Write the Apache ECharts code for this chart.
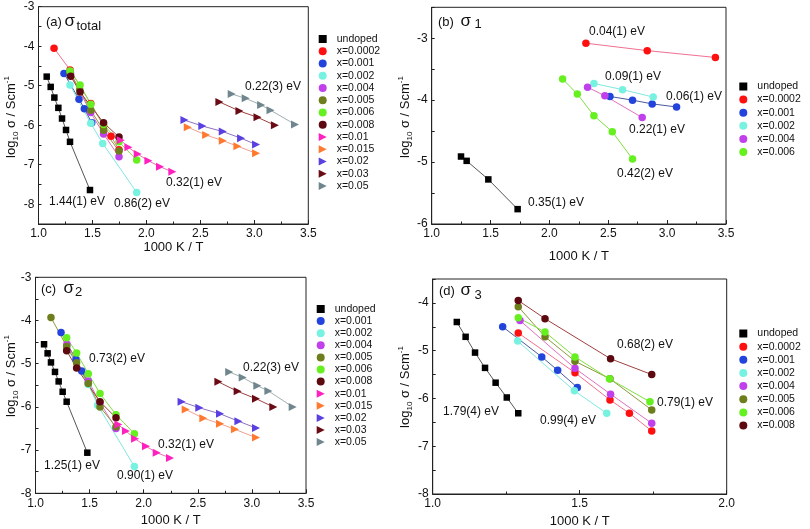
<!DOCTYPE html>
<html>
<head>
<meta charset="utf-8">
<script src="https://cdn.jsdelivr.net/npm/echarts@6/dist/echarts.min.js"></script>
<style>html,body{margin:0;padding:0;background:#fff}#c{width:810px;height:529px}</style>
</head>
<body>
<div id="c"></div>
<script>
// ---------- series names ----------
const NAMES_A = ['undoped','x=0.0002','x=0.001','x=0.002','x=0.004','x=0.005','x=0.006','x=0.008','x=0.01','x=0.015','x=0.02','x=0.03','x=0.05'];
const NAMES_B = ['undoped','x=0.0002','x=0.001','x=0.002','x=0.004','x=0.006'];
const NAMES_C = ['undoped','x=0.001','x=0.002','x=0.004','x=0.005','x=0.006','x=0.008','x=0.01','x=0.015','x=0.02','x=0.03','x=0.05'];
const NAMES_D = ['undoped','x=0.0002','x=0.001','x=0.002','x=0.004','x=0.005','x=0.006','x=0.008'];

// ---------- panel (a) sigma_total : [1000/T, log10 sigma] ----------
const A_undoped = [[1.076,-4.77],[1.113,-5.03],[1.147,-5.30],[1.184,-5.56],[1.218,-5.83],[1.255,-6.12],[1.292,-6.42],[1.477,-7.64]];
const A_x0002 = [[1.144,-4.05],[1.292,-4.60],[1.484,-5.45],[1.603,-6.02],[1.672,-6.28],[1.746,-6.62]];
const A_x001 = [[1.236,-4.69],[1.375,-5.34],[1.425,-5.58],[1.493,-5.94]];
const A_x002 = [[1.292,-4.98],[1.484,-5.95],[1.595,-6.46],[1.910,-7.70]];
const A_x004 = [[1.297,-4.70],[1.484,-5.68],[1.603,-6.22],[1.746,-6.80]];
const A_x005 = [[1.292,-4.66],[1.382,-5.10],[1.484,-5.62],[1.603,-6.13],[1.746,-6.65]];
const A_x006 = [[1.292,-4.63],[1.385,-4.98],[1.484,-5.47],[1.603,-5.98],[1.746,-6.42],[1.910,-6.88]];
const A_x008 = [[1.298,-4.76],[1.385,-5.16],[1.603,-5.94],[1.746,-6.30]];
const A_x01 = [[1.762,-6.38],[1.833,-6.56],[1.919,-6.73],[2.018,-6.90],[2.126,-7.05],[2.240,-7.18]];
const A_x015 = [[2.383,-6.05],[2.553,-6.25],[2.707,-6.39],[2.843,-6.53],[3.016,-6.71]];
const A_x02 = [[2.352,-5.87],[2.518,-6.02],[2.707,-6.16],[2.877,-6.33],[3.016,-6.49]];
const A_x03 = [[2.676,-5.41],[2.862,-5.64],[3.029,-5.80],[3.190,-6.00]];
const A_x05 = [[2.790,-5.21],[2.920,-5.32],[3.063,-5.49],[3.150,-5.62],[3.377,-5.98]];

// ---------- panel (b) sigma_1 ----------
const B_undoped = [[1.249,-4.91],[1.297,-4.98],[1.481,-5.28],[1.730,-5.76]];
const B_x0002 = [[2.310,-3.08],[2.831,-3.20],[3.410,-3.31]];
const B_x001 = [[2.514,-3.94],[2.706,-4.00],[2.873,-4.06],[3.080,-4.11]];
const B_x002 = [[2.378,-3.73],[2.621,-3.83],[2.882,-3.95]];
const B_x004 = [[2.324,-3.79],[2.471,-3.93],[2.788,-4.28]];
const B_x006 = [[2.112,-3.66],[2.237,-3.90],[2.378,-4.25],[2.534,-4.51],[2.706,-4.95]];

// ---------- panel (c) sigma_2 ----------
const C_undoped = [[1.079,-4.55],[1.112,-4.76],[1.143,-4.97],[1.180,-5.19],[1.214,-5.41],[1.251,-5.65],[1.288,-5.88],[1.479,-7.06]];
const C_x001 = [[1.236,-4.28],[1.374,-4.90],[1.427,-5.17],[1.488,-5.46]];
const C_x002 = [[1.288,-4.62],[1.488,-5.48],[1.575,-5.96],[1.914,-7.38]];
const C_x004 = [[1.290,-4.55],[1.488,-5.40],[1.596,-5.90],[1.744,-6.50]];
const C_x005 = [[1.143,-3.93],[1.288,-4.60],[1.380,-4.98],[1.488,-5.46],[1.596,-6.00],[1.744,-6.46]];
const C_x006 = [[1.288,-4.40],[1.380,-4.75],[1.488,-5.23],[1.596,-5.69],[1.744,-6.18],[1.914,-6.62]];
const C_x008 = [[1.288,-4.70],[1.380,-5.10],[1.596,-5.88],[1.744,-6.25]];
const C_x01 = [[1.766,-6.41],[1.836,-6.56],[1.920,-6.74],[2.021,-6.91],[2.120,-7.06],[2.243,-7.18]];
const C_x015 = [[2.388,-6.06],[2.551,-6.26],[2.705,-6.39],[2.843,-6.52],[3.038,-6.71]];
const C_x02 = [[2.350,-5.88],[2.514,-6.02],[2.705,-6.16],[2.875,-6.33],[3.038,-6.49]];
const C_x03 = [[2.690,-5.42],[2.868,-5.64],[3.038,-5.81],[3.198,-6.00]];
const C_x05 = [[2.790,-5.19],[2.915,-5.32],[3.050,-5.51],[3.152,-5.63],[3.377,-6.00]];

// ---------- panel (d) sigma_3 ----------
const D_undoped = [[1.082,-4.40],[1.112,-4.71],[1.144,-5.04],[1.178,-5.36],[1.214,-5.67],[1.252,-5.98],[1.291,-6.31]];
const D_x0002 = [[1.291,-4.63],[1.484,-5.46],[1.603,-6.03],[1.669,-6.31],[1.745,-6.68]];
const D_x001 = [[1.238,-4.50],[1.371,-5.13],[1.425,-5.41],[1.492,-5.77]];
const D_x002 = [[1.289,-4.80],[1.482,-5.84],[1.592,-6.31]];
const D_x004 = [[1.297,-4.37],[1.484,-5.37],[1.605,-5.91],[1.745,-6.52]];
const D_x005 = [[1.291,-4.08],[1.382,-4.71],[1.484,-5.22],[1.603,-5.59],[1.745,-6.24]];
const D_x006 = [[1.291,-4.31],[1.382,-4.61],[1.484,-5.13],[1.601,-5.59],[1.739,-6.07]];
const D_x008 = [[1.291,-3.95],[1.382,-4.33],[1.605,-5.17],[1.745,-5.50]];

// ---------- axis ticks ----------
const X_TICKS_WIDE = [1.0, 3.5, 0.5];   // min, max, step for (a),(b),(c)
const X_TICKS_D = [1.0, 2.0, 0.5];
const Y_A = [-8.5, -3, 0.5];
const Y_B = [-6, -2.5, 0.5];
const Y_C = [-8, -3, 0.5];
const Y_D = [-8, -3.5, 0.5];

// ---------- styles ----------
const SQ = 'path://M0,0H10V10H0Z';
const TRI = 'path://M0,0L10,5L0,10Z';
const STYLE = {
  'undoped': {c:'#000000', l:'#555555', s:SQ, z:6.5},
  'x=0.0002':{c:'#ff1010', l:'#f07090', s:'circle', z:7.5},
  'x=0.001': {c:'#2244dd', l:'#4a5a9a', s:'circle', z:7.5},
  'x=0.002': {c:'#78f2e0', l:'#7fe8e0', s:'circle', z:7.5},
  'x=0.004': {c:'#c040ec', l:'#e070c0', s:'circle', z:7.5},
  'x=0.005': {c:'#6e7e1c', l:'#8a9a3a', s:'circle', z:7.5},
  'x=0.006': {c:'#66f020', l:'#80e040', s:'circle', z:7.5},
  'x=0.008': {c:'#5c0a10', l:'#a04040', s:'circle', z:7.5},
  'x=0.01':  {c:'#ff20c0', l:'#f070b0', s:TRI, z:8},
  'x=0.015': {c:'#ff7a30', l:'#f0a090', s:TRI, z:8},
  'x=0.02':  {c:'#5a40e0', l:'#9070c0', s:TRI, z:8},
  'x=0.03':  {c:'#6a0a14', l:'#a04040', s:TRI, z:8},
  'x=0.05':  {c:'#70868e', l:'#a0b0b0', s:TRI, z:8}
};

const FONT = 'Liberation Sans, Arial, sans-serif';
const PANELS = [
  {grid:{left:38.5, top:6.7, width:269.8, height:217.3}, xr:X_TICKS_WIDE, yr:Y_A, xGap:17, names:NAMES_A,
   data:[A_undoped,A_x0002,A_x001,A_x002,A_x004,A_x005,A_x006,A_x008,A_x01,A_x015,A_x02,A_x03,A_x05],
   legend:{left:318.7, top:33, lh:12, gap:0.25}},
  {grid:{left:431.7, top:7.3, width:294.3, height:216.7}, xr:X_TICKS_WIDE, yr:Y_B, xGap:26, names:NAMES_B,
   data:[B_undoped,B_x0002,B_x001,B_x002,B_x004,B_x006], legend:{left:739.3, top:80, lh:13, gap:0.1}},
  {grid:{left:35.5, top:277.3, width:270.5, height:216}, xr:X_TICKS_WIDE, yr:Y_C, xGap:21, names:NAMES_C,
   data:[C_undoped,C_x001,C_x002,C_x004,C_x005,C_x006,C_x008,C_x01,C_x015,C_x02,C_x03,C_x05],
   legend:{left:316.7, top:303, lh:12, gap:0.1}},
  {grid:{left:432.7, top:279, width:294, height:215.3}, xr:X_TICKS_D, yr:Y_D, xGap:21, names:NAMES_D,
   data:[D_undoped,D_x0002,D_x001,D_x002,D_x004,D_x005,D_x006,D_x008], legend:{left:739.3, top:327, lh:13, gap:0.15}}
];

const grids=[], xAxes=[], yAxes=[], series=[], legends=[];
PANELS.forEach((p,i)=>{
  grids.push(Object.assign({show:true, borderColor:'#222', borderWidth:1, backgroundColor:'transparent'}, p.grid));
  xAxes.push({type:'value', gridIndex:i, min:p.xr[0], max:p.xr[1], interval:p.xr[2],
    name:'1000 K / T', nameLocation:'middle', nameGap:p.xGap,
    nameTextStyle:{fontFamily:FONT, fontSize:13, color:'#111'},
    axisLine:{show:true, lineStyle:{color:'#222', width:1}},
    axisTick:{show:true, inside:true, length:4, lineStyle:{color:'#222'}},
    minorTick:{show:true, splitNumber:2, length:2.5, lineStyle:{color:'#222'}},
    splitLine:{show:false}, minorSplitLine:{show:false},
    axisLabel:{fontFamily:FONT, fontSize:12, color:'#111', margin:4, formatter:v=>v.toFixed(1)}});
  yAxes.push({type:'value', gridIndex:i, min:p.yr[0], max:p.yr[1], interval:p.yr[2],
    axisLine:{show:true, lineStyle:{color:'#222', width:1}},
    axisTick:{show:true, inside:true, length:3, lineStyle:{color:'#222'}},
    splitLine:{show:false},
    axisLabel:{fontFamily:FONT, fontSize:12, color:'#111', margin:4, showMaxLabel:true,
      formatter:v=>Math.abs(v-Math.round(v))<1e-9 ? String(Math.round(v)) : ''}});
  p.names.forEach((n,k)=>{
    const st = STYLE[n];
    series.push({type:'line', name:n, xAxisIndex:i, yAxisIndex:i, data:p.data[k],
      symbol:st.s, symbolSize:st.z, showSymbol:true, symbolKeepAspect:true,
      itemStyle:{color:st.c}, lineStyle:{color:st.l, width:1}, emphasis:{disabled:true}, z:3});
  });
  legends.push({orient:'vertical', left:p.legend.left, top:p.legend.top, padding:0, itemGap:p.legend.gap,
    itemWidth:18, itemHeight:8, symbolKeepAspect:true, selectedMode:false,
    textStyle:{fontFamily:FONT, fontSize:10.5, color:'#111', lineHeight:p.legend.lh},
    data:p.names.map(n=>({name:n, icon:STYLE[n].s, itemStyle:{color:STYLE[n].c}}))});
});

function txt(x,y,t,size,extra){
  return Object.assign({type:'text', x:x, y:y, z:100, style:{text:t, fontFamily:FONT, fontSize:size||12, fill:'#111', align:'left', verticalAlign:'middle'}}, extra||{});
}
function yName(x,y){
  return {type:'text', x:x, y:y, rotation:Math.PI/2, z:100, style:{
    text:'log{s|10} σ / Scm{p|-1}', fontFamily:FONT, fontSize:13, fill:'#111', lineHeight:17,
    align:'center', verticalAlign:'middle',
    rich:{s:{fontSize:8, lineHeight:8, verticalAlign:'bottom', fontFamily:FONT, fill:'#111'},
          p:{fontSize:8, lineHeight:8, verticalAlign:'top', fontFamily:FONT, fill:'#111'}}}};
}
const graphic = [
  yName(11,117), yName(405,117), yName(11,376), yName(405,387),
  // panel titles
  txt(46,22.5,'(a)',13), txt(64.5,21,'σ',17), txt(76.5,26.5,'total',13),
  txt(438,22,'(b)',13), txt(460.5,21,'σ',17), txt(474.5,24.5,'1',13),
  txt(41,289,'(c)',13), txt(63.5,288,'σ',17), txt(75,292,'2',13),
  txt(439,291.5,'(d)',13), txt(460.5,290.5,'σ',17), txt(474.5,295.5,'3',13),
  // activation energies (a)
  txt(49,202,'1.44(1) eV'), txt(114,204,'0.86(2) eV'), txt(166,183,'0.32(1) eV'), txt(245,87,'0.22(3) eV'),
  // (b)
  txt(589,32,'0.04(1) eV'), txt(605,77,'0.09(1) eV'), txt(666,97,'0.06(1) eV'), txt(629,130,'0.22(1) eV'),
  txt(617,174,'0.42(2) eV'), txt(528,203,'0.35(1) eV'),
  // (c)
  txt(89,359,'0.73(2) eV'), txt(44,466,'1.25(1) eV'), txt(117,476,'0.90(1) eV'), txt(158,445,'0.32(1) eV'), txt(243,368,'0.22(3) eV'),
  // (d)
  txt(443,412,'1.79(4) eV'), txt(540,421,'0.99(4) eV'), txt(617,345,'0.68(2) eV'), txt(657,403,'0.79(1) eV')
];

const chart = echarts.init(document.getElementById('c'), null, {renderer:'canvas'});
chart.setOption({animation:false, backgroundColor:'#fff', grid:grids, xAxis:xAxes, yAxis:yAxes, series:series, legend:legends, graphic:graphic});
</script>
</body>
</html>
